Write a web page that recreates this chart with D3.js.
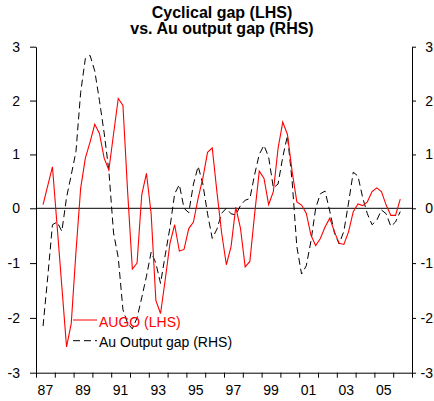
<!DOCTYPE html>
<html><head><meta charset="utf-8">
<script src="https://cdn.jsdelivr.net/npm/d3@7"></script>
<style>body{margin:0;background:#fff;} svg{display:block;} text{font-family:"Liberation Sans",Arial,sans-serif;}</style>
</head><body><svg id="c" width="434" height="401"></svg>
<script>
const quarters = [
 "1987Q2","1987Q3","1987Q4",
 "1988Q1","1988Q2","1988Q3","1988Q4","1989Q1","1989Q2","1989Q3","1989Q4",
 "1990Q1","1990Q2","1990Q3","1990Q4","1991Q1","1991Q2","1991Q3","1991Q4",
 "1992Q1","1992Q2","1992Q3","1992Q4","1993Q1","1993Q2","1993Q3","1993Q4",
 "1994Q1","1994Q2","1994Q3","1994Q4","1995Q1","1995Q2","1995Q3","1995Q4",
 "1996Q1","1996Q2","1996Q3","1996Q4","1997Q1","1997Q2","1997Q3","1997Q4",
 "1998Q1","1998Q2","1998Q3","1998Q4","1999Q1","1999Q2","1999Q3","1999Q4",
 "2000Q1","2000Q2","2000Q3","2000Q4","2001Q1","2001Q2","2001Q3","2001Q4",
 "2002Q1","2002Q2","2002Q3","2002Q4","2003Q1","2003Q2","2003Q3","2003Q4",
 "2004Q1","2004Q2","2004Q3","2004Q4","2005Q1","2005Q2","2005Q3","2005Q4",
 "2006Q1","2006Q2"];
// AUGO (LHS) - red
const augo = [
 0.07,0.42,0.77,-0.33,-1.43,-2.53,-2.10,-0.80,0.37,0.93,
 1.23,1.56,1.39,0.93,0.71,1.38,2.04,1.91,0.30,-1.11,
 -1.00,0.25,0.65,-0.10,-1.68,-1.92,-1.30,-0.64,-0.30,-0.78,
 -0.75,-0.37,-0.25,0.19,0.56,1.04,1.12,0.30,-0.45,-1.03,
 -0.70,0.02,-0.36,-1.07,-0.97,-0.12,0.69,0.56,0.07,0.31,
 1.11,1.60,1.37,0.68,0.12,0.06,-0.09,-0.49,-0.68,-0.55,
 -0.34,-0.18,-0.43,-0.64,-0.66,-0.43,-0.06,0.08,0.05,0.12,
 0.31,0.38,0.31,0.06,-0.13,-0.13,0.17];
// Au Output gap (RHS) - black dashed
const auOutputGap = [
 -2.15,-1.25,-0.30,-0.25,-0.42,0.20,0.62,1.05,2.15,2.78,
 2.84,2.55,2.00,1.40,0.70,-0.45,-0.90,-1.85,-2.10,-2.20,
 -2.00,-1.63,-1.24,-0.80,-1.00,-1.37,-0.85,-0.35,0.27,0.44,
 0.00,-0.08,0.45,0.78,0.45,-0.10,-0.55,-0.38,-0.09,0.00,
 -0.10,-0.12,0.05,0.15,0.18,0.62,1.00,1.17,0.95,0.38,
 0.45,0.95,1.35,0.50,-0.70,-1.20,-1.05,-0.60,0.00,0.27,
 0.32,-0.05,-0.45,-0.65,-0.42,0.10,0.67,0.60,0.20,-0.10,
 -0.30,-0.22,-0.03,-0.10,-0.33,-0.25,-0.06];
const xTickLabels = ["87","89","91","93","95","97","99","01","03","05"];
const yTicks = [-3,-2,-1,0,1,2,3];
const titleLines = ["Cyclical gap (LHS)","vs. Au output gap (RHS)"];
const seriesNames = ["AUGO (LHS)","Au Output gap (RHS)"];

const W=434,H=401,L=36,R=412,T=46.7,B=372.7,Y0=208.3;
const svg=d3.select("#c");
svg.append("rect").attr("width",W).attr("height",H).attr("fill","#fff");
const x=d3.scaleLinear().domain([1987,2007]).range([L,R]);
const yL=d3.scaleLinear().domain([-3,0,3]).range([B,Y0,T]);
const yR=d3.scaleLinear().domain([-3,0,3]).range([B,Y0,T]);
const tq=q=>+q.slice(0,4)+(+q.slice(5)-0.5)/4;

// title
svg.append("g").selectAll("text").data(titleLines).join("text")
 .attr("x",222).attr("y",(d,i)=>18+i*16).attr("text-anchor","middle")
 .attr("font-size",16).attr("font-weight","bold").text(d=>d);

const fmt=d=>String(d);
// left axis
const gl=svg.append("g").attr("transform",`translate(${L},0)`)
 .call(d3.axisLeft(yL).tickValues(yTicks).tickSize(6).tickSizeOuter(0).tickPadding(10).tickFormat(fmt));
// right axis
const gr=svg.append("g").attr("transform",`translate(${R},0)`)
 .call(d3.axisRight(yR).tickValues(yTicks).tickSize(4).tickSizeOuter(0).tickPadding(17).tickFormat(fmt));
gr.selectAll("text").attr("text-anchor","end");
// bottom axis
const years=d3.range(1987,2008);
const gb=svg.append("g").attr("transform",`translate(0,${B})`)
 .call(d3.axisBottom(x).tickValues(years).tickSize(5).tickSizeOuter(0).tickFormat(""));
gb.append("g").selectAll("text").data(xTickLabels).join("text")
 .attr("x",d=>x((+d<50?2000:1900)+ +d+0.5)).attr("y",22).attr("text-anchor","middle")
 .attr("fill","#000").text(d=>d);
[gl,gr,gb].forEach(g=>{g.selectAll("text").attr("font-size",14).attr("font-family",null);
 g.selectAll("path,line").attr("stroke","#000");});

// zero line
svg.append("line").attr("x1",L).attr("x2",R).attr("y1",yL(0)).attr("y2",yL(0)).attr("stroke","#000").attr("stroke-width",1);

const dataR=quarters.map((q,i)=>({t:tq(q),v:augo[i]}));
const dataB=quarters.map((q,i)=>({t:tq(q),v:auOutputGap[i]}));
svg.append("path").datum(dataB).attr("fill","none").attr("stroke","#000").attr("stroke-width",1)
 .attr("stroke-dasharray","7,4")
 .attr("d",d3.line().x(d=>x(d.t)).y(d=>yR(d.v)));
svg.append("path").datum(dataR).attr("fill","none").attr("stroke","#ff0000").attr("stroke-width",1.1)
 .attr("d",d3.line().x(d=>x(d.t)).y(d=>yL(d.v)));

// legend
const lg=svg.append("g");
const leg=[{n:seriesNames[0],c:"#ff0000",dash:null,y:320},{n:seriesNames[1],c:"#000",dash:"7,4",y:340.7}];
lg.selectAll("line").data(leg).join("line").attr("x1",73).attr("x2",97)
 .attr("y1",d=>d.y).attr("y2",d=>d.y).attr("stroke",d=>d.c).attr("stroke-width",1)
 .attr("stroke-dasharray",d=>d.dash);
lg.selectAll("text").data(leg).join("text").attr("x",99).attr("y",d=>d.y+6.5)
 .attr("font-size",14).attr("fill",d=>d.c).text(d=>d.n);
</script></body></html>
